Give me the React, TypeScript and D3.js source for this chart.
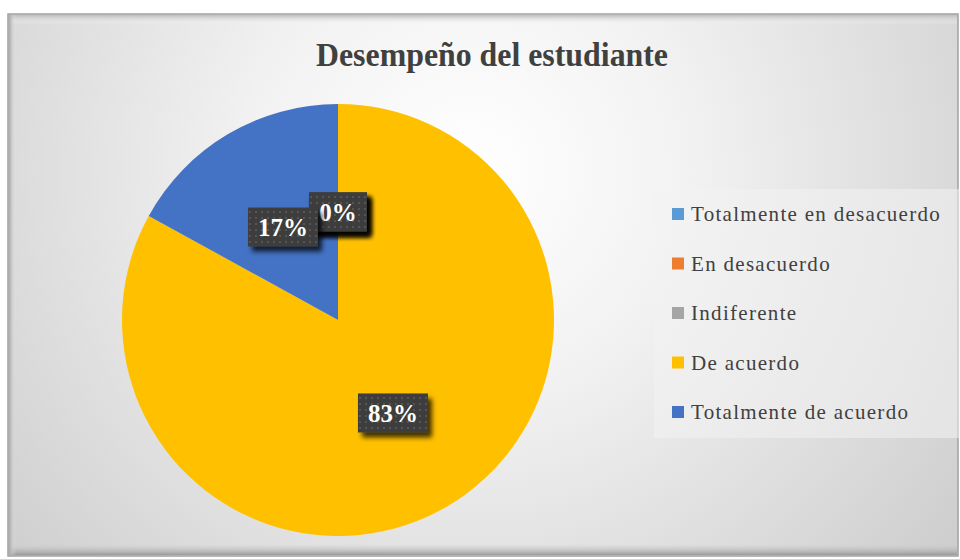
import React from "react";
import * as d3 from "d3";

const categories = [
  "Totalmente en desacuerdo",
  "En desacuerdo",
  "Indiferente",
  "De acuerdo",
  "Totalmente de acuerdo",
];
const values = [0, 0, 0, 83, 17];
const colors = ["#5B9BD5", "#ED7D31", "#A5A5A5", "#FFC000", "#4472C4"];
const title = "Desempeño del estudiante";

const W = 960;
const H = 559;
const cx = 338;
const cy = 320;
const R = 216;

export default function App() {
  const pie = d3
    .pie<number>()
    .sort(null)
    .value((d) => d)
    .startAngle(0)
    .endAngle(2 * Math.PI);
  const arcs = pie(values);
  const arc = d3.arc<d3.PieArcDatum<number>>().innerRadius(0).outerRadius(R);
  const labelArc = d3
    .arc<d3.PieArcDatum<number>>()
    .innerRadius(R * 0.5)
    .outerRadius(R * 0.5);
  const total = d3.sum(values);
  const fmt = (v: number) => `${Math.round((v / total) * 100)}%`;

  const legendY = d3
    .scalePoint<string>()
    .domain(categories)
    .range([221, 419]);

  return (
    <svg
      width={W}
      height={H}
      style={{ position: "absolute", left: 0, top: 0, fontFamily: "'Liberation Serif', serif" }}
    >
      <defs>
        <radialGradient id="bg" cx="470" cy="170" r="620" gradientUnits="userSpaceOnUse">
          <stop offset="0" stopColor="#ffffff" />
          <stop offset="0.35" stopColor="#f2f2f2" />
          <stop offset="1" stopColor="#cdcdcd" />
        </radialGradient>
        <linearGradient id="bevelTop" x1="0" y1="0" x2="0" y2="1">
          <stop offset="0" stopColor="#bdbdbd" />
          <stop offset="1" stopColor="#ffffff" stopOpacity="0" />
        </linearGradient>
        <linearGradient id="bevelBottom" x1="0" y1="0" x2="0" y2="1">
          <stop offset="0" stopColor="#cccccc" stopOpacity="0" />
          <stop offset="1" stopColor="#9a9a9a" />
        </linearGradient>
        <linearGradient id="bevelLeft" x1="0" y1="0" x2="1" y2="0">
          <stop offset="0" stopColor="#a8a8a8" />
          <stop offset="1" stopColor="#e6e6e6" stopOpacity="0" />
        </linearGradient>
        <pattern id="dots" width="6" height="6" patternUnits="userSpaceOnUse">
          <rect width="6" height="6" fill="#3d3d3d" />
          <rect x="2" y="2" width="2" height="2" fill="#555555" />
        </pattern>
        <filter id="shadow" x="-30%" y="-30%" width="160%" height="170%">
          <feGaussianBlur in="SourceAlpha" stdDeviation="2.5" />
          <feOffset dx="4" dy="5" result="o" />
          <feComponentTransfer>
            <feFuncA type="linear" slope="0.75" />
          </feComponentTransfer>
          <feMerge>
            <feMergeNode />
            <feMergeNode in="SourceGraphic" />
          </feMerge>
        </filter>
      </defs>
      <rect x={0} y={0} width={W} height={H} fill="#ffffff" />
      <rect x={8} y={14} width={950} height={542} fill="url(#bg)" stroke="#a0a0a0" strokeWidth={1.5} />
      <rect x={9} y={15} width={948} height={10} fill="url(#bevelTop)" />
      <rect x={9} y={544} width={948} height={11} fill="url(#bevelBottom)" />
      <rect x={9} y={15} width={7} height={540} fill="url(#bevelLeft)" />

      <text
        x={492}
        y={66}
        textAnchor="middle"
        fontSize={34}
        fontWeight="bold"
        fill="#404040"
        textLength={352}
        lengthAdjust="spacingAndGlyphs"
      >
        {title}
      </text>

      <g transform={`translate(${cx},${cy})`}>
        {arcs.map((a, i) =>
          a.value > 0 ? <path key={i} d={arc(a) || ""} fill={colors[i]} /> : null
        )}
        {arcs.map((a, i) => {
          const [lx, ly] = labelArc.centroid(a);
          const label = fmt(a.value);
          const w = label.length === 2 ? 58 : 70;
          const h = 39;
          return (
            <g key={"l" + i} transform={`translate(${lx},${ly})`}>
              <rect x={-w / 2} y={-h / 2} width={w} height={h} fill="url(#dots)" filter="url(#shadow)" />
              <text
                x={0}
                y={9}
                textAnchor="middle"
                fontSize={25}
                fontWeight="bold"
                fill="#ffffff"
              >
                {label}
              </text>
            </g>
          );
        })}
      </g>

      <rect x={654} y={189} width={306} height={249} fill="#f2f2f2" fillOpacity={0.55} />
      {categories.map((c, i) => {
        const y = legendY(c) as number;
        return (
          <g key={c}>
            <rect x={672} y={y - 13} width={12} height={12} fill={colors[i]} />
            <text x={691} y={y} fontSize={21} fill="#404040" letterSpacing={1.3}>
              {c}
            </text>
          </g>
        );
      })}
    </svg>
  );
}
